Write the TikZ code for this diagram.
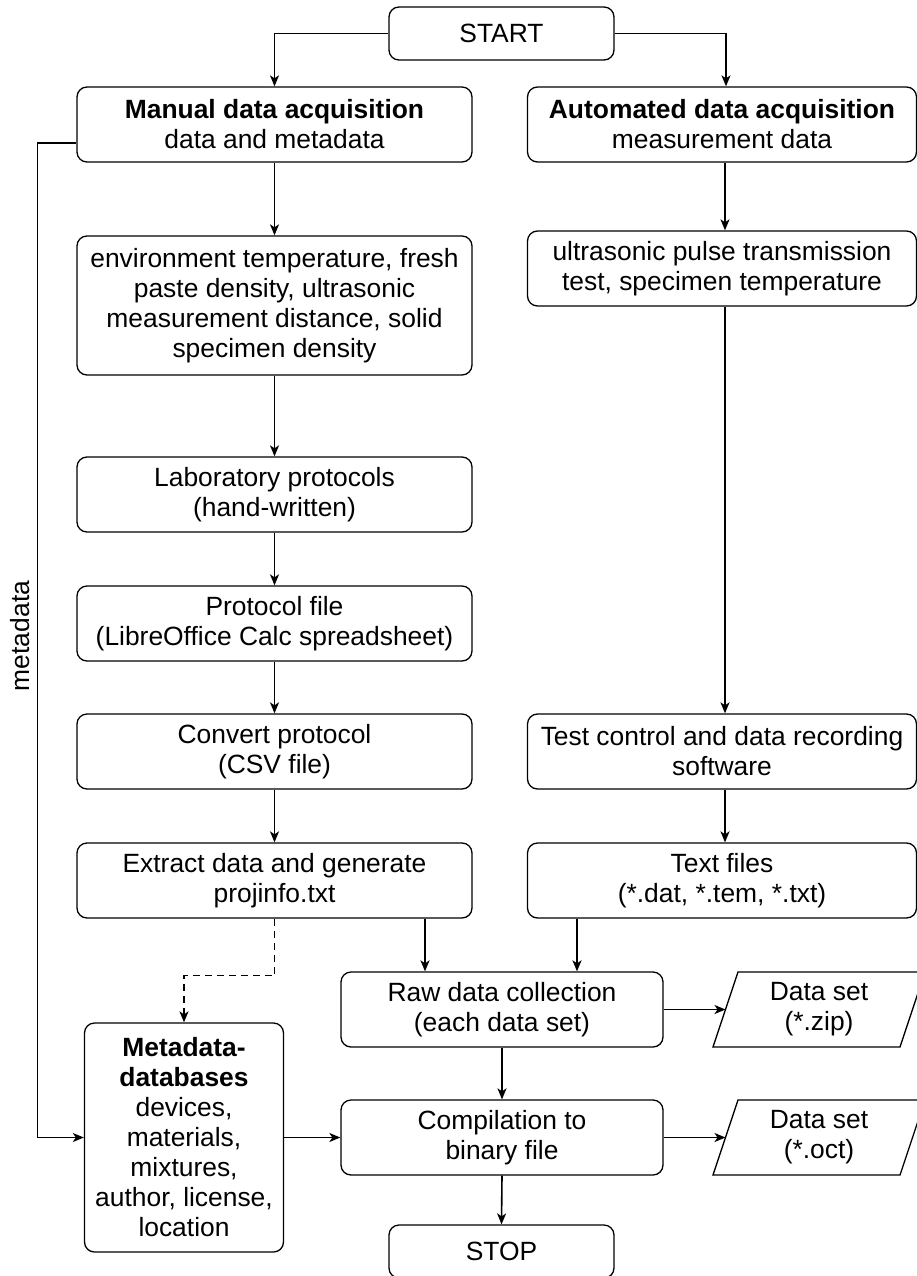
\documentclass[tikz,border=0pt]{standalone}
\usepackage{fontspec}
\setmainfont{Liberation Sans}
\usetikzlibrary{arrows.meta}
\begin{document}
\begin{tikzpicture}[x=1pt,y=-1pt,
  txt/.style={align=center, inner sep=0pt, font=\fontsize{26.4}{30}\selectfont},
  box/.style={txt, draw, rounded corners=10pt, line width=1.3pt},
  lcol/.style={box, minimum width=395pt, minimum height=75pt},
  rcol/.style={box, minimum width=389pt, minimum height=75pt},
  mid/.style={box, minimum width=322pt, minimum height=75pt},
  term/.style={box, minimum width=225pt, minimum height=53pt},
  ln/.style={line width=1.6pt},
  arr/.style={ln, -{Stealth[length=11pt,width=9pt,inset=3pt]}}]
\useasboundingbox (0,0) rectangle (917,1276);

\node[term] (start) at (501.5,33.5) {START};
\node[lcol] (manual) at (274.5,124.5) {\textbf{Manual data acquisition}\\data and metadata};
\node[rcol] (auto) at (722,124.5) {\textbf{Automated data acquisition}\\measurement data};
\node[lcol, minimum height=139pt] (env) at (274.5,305.5) {environment temperature, fresh\\paste density, ultrasonic\\measurement distance, solid\\specimen density};
\node[rcol] (ultra) at (722,268.5) {ultrasonic pulse transmission\\test, specimen temperature};
\node[lcol] (lab) at (274.5,494.5) {Laboratory protocols\\(hand-written)};
\node[lcol] (pfile) at (274.5,623.5) {Protocol file\\(LibreOffice Calc spreadsheet)};
\node[lcol] (conv) at (274.5,751.5) {Convert protocol\\(CSV file)};
\node[lcol] (extr) at (274.5,880.5) {Extract data and generate\\projinfo.txt};
\node[rcol] (soft) at (722,751.5) {Test control and data recording\\software};
\node[rcol] (tfiles) at (722,880.5) {Text files\\(*.dat, *.tem, *.txt)};
\node[mid] (raw) at (502,1009.5) {Raw data collection\\(each data set)};
\node[mid] (comp) at (502,1137.5) {Compilation to\\binary file};
\node[box, minimum width=199pt, minimum height=229pt] (meta) at (184,1137.5) {\textbf{Metadata-}\\\textbf{databases}\\devices,\\materials,\\mixtures,\\author, license,\\location};
\node[term] (stop) at (501.5,1251.5) {STOP};

\node[txt] (zip) at (819,1009.5) {Data set\\(*.zip)};
\draw[line width=1.3pt] (zip.center) ++(-106,37.5) -- ++(187,0) -- ++(25,-75) -- ++(-187,0) -- cycle;
\coordinate (zipin) at (725.5,1009.5);
\node[txt] (oct) at (819,1137.5) {Data set\\(*.oct)};
\draw[line width=1.3pt] (oct.center) ++(-106,37.5) -- ++(187,0) -- ++(25,-75) -- ++(-187,0) -- cycle;
\coordinate (octin) at (725.5,1137.5);

\node[txt, rotate=90] (mlabel) at (20,636) {metadata};

\draw[arr] (start.west) -| (manual.north);
\draw[arr] (start.east) -| ([xshift=4pt]auto.north);
\draw[arr] (manual.south) -- (env.north);
\draw[arr] ([xshift=3pt]auto.south) -- ([xshift=3pt]ultra.north);
\draw[arr] ([xshift=3pt]ultra.south) -- ([xshift=3pt]soft.north);
\draw[arr] (env.south) -- (lab.north);
\draw[arr] (lab.south) -- (pfile.north);
\draw[arr] (pfile.south) -- (conv.north);
\draw[arr] (conv.south) -- (extr.north);
\draw[arr] ([xshift=3pt]soft.south) -- ([xshift=3pt]tfiles.north);
\draw[arr, dash pattern=on 7pt off 5pt] (extr.south) -- ++(0,57) -| (meta.north);
\draw[arr] ([xshift=150.5pt]extr.south) -- ([xshift=150.5pt]extr.south |- raw.north);
\draw[arr] ([xshift=-145pt]tfiles.south) -- ([xshift=-145pt]tfiles.south |- raw.north);
\draw[arr] (raw.east) -- (zipin);
\draw[arr] (raw.south) -- (comp.north);
\draw[arr] (meta.east) -- (comp.west);
\draw[arr] (comp.east) -- (octin);
\draw[arr] (comp.south) -- (stop.north);
\draw[arr] ([yshift=-18.5pt]manual.west) -- ++(-39,0) |- (meta.west);
\end{tikzpicture}
\end{document}
